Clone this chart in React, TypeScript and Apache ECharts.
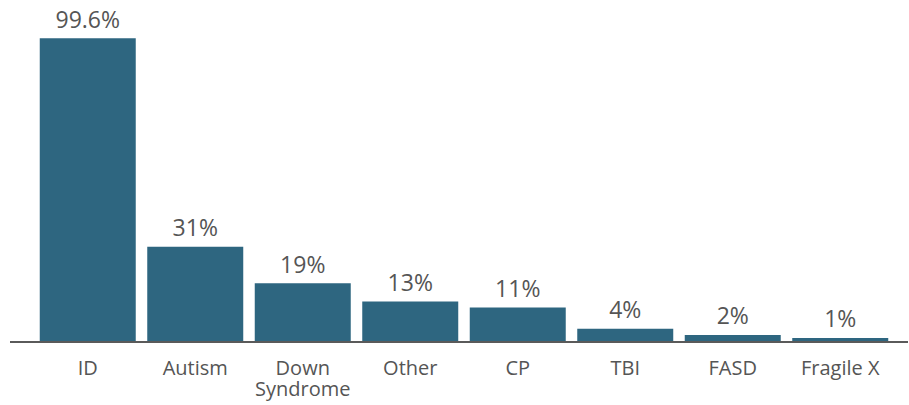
import React, { useEffect, useRef } from "react";
import * as echarts from "echarts";

const categories = ["ID", "Autism", "Down\nSyndrome", "Other", "CP", "TBI", "FASD", "Fragile X"];
const values = [99.6, 31, 19, 13, 11, 4, 2, 1];
const valueLabels = ["99.6%", "31%", "19%", "13%", "11%", "4%", "2%", "1%"];

export default function App() {
  const ref = useRef<HTMLDivElement>(null);
  useEffect(() => {
    if (!ref.current) return;
    const chart = echarts.init(ref.current, null, { renderer: "svg" });
    chart.setOption({
      animation: false,
      textStyle: { fontFamily: "Open Sans" },
      grid: { left: 34, right: 15, top: 37, bottom: 64 },
      xAxis: {
        type: "category",
        data: categories,
        axisLine: { show: false },
        axisTick: { show: false },
        axisLabel: {
          color: "#555555",
          fontSize: 20,
          fontFamily: "Open Sans",
          margin: 16,
          lineHeight: 21,
          interval: 0,
        },
      },
      yAxis: {
        type: "value",
        min: 0,
        max: 100,
        show: false,
        splitLine: { show: false },
      },
      series: [
        {
          type: "bar",
          data: values,
          barCategoryGap: "10.7%",
          itemStyle: { color: "#2e6680" },
          label: {
            show: true,
            position: "top",
            distance: 8,
            color: "#555555",
            fontSize: 23,
            fontFamily: "Open Sans",
            formatter: (p: any) => valueLabels[p.dataIndex],
          },
        },
      ],
      graphic: [
        {
          type: "line",
          shape: { x1: 10, y1: 342, x2: 908, y2: 342 },
          style: { stroke: "#5a5a5a", lineWidth: 2 },
          z: 100,
        },
      ],
    });
    return () => chart.dispose();
  }, []);
  return (
    <div
      ref={ref}
      style={{ position: "absolute", left: 0, top: 0, width: 909, height: 405 }}
    />
  );
}
